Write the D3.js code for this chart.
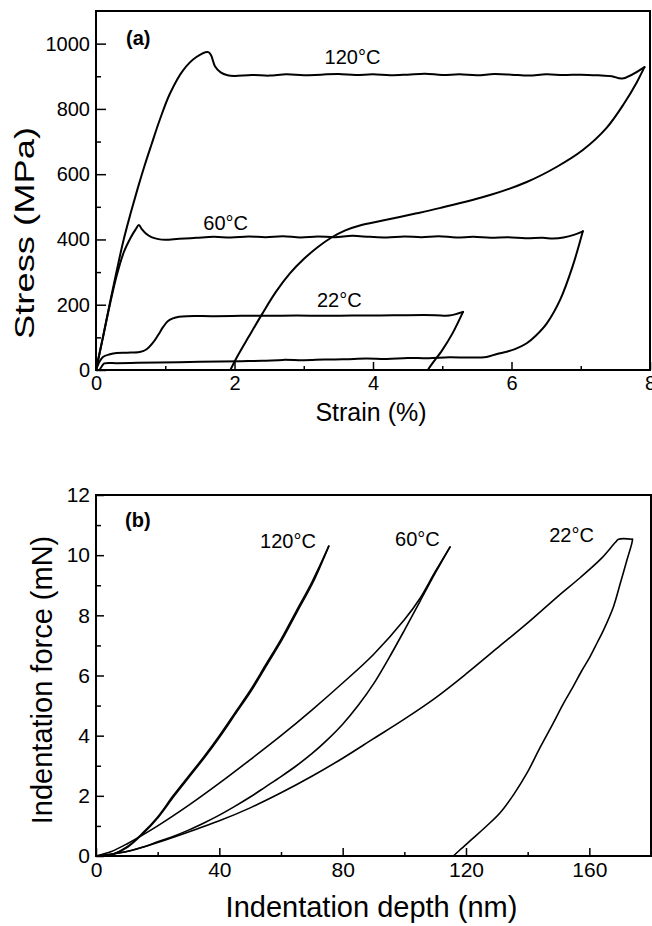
<!DOCTYPE html>
<html lang="en">
<head>
  <meta charset="utf-8">
  <title>Stress-strain and indentation curves</title>
  <script type="text/javascript" src="https://d3js.org/d3.v7.min.js"></script>
  <style type="text/css">
    body { margin: 0; background: #fff; }
    text { font-family: "Liberation Sans", Arial, sans-serif; fill: #000; }
    .curve { fill: none; stroke: #000; stroke-linejoin: round; stroke-linecap: round; }
    .frame { fill: none; stroke: #000; stroke-width: 2; }
    .axis path { display: none; }
    .axis line { stroke: #000; stroke-width: 1.5; }
  </style>
</head>
<body>
  <script type="text/javascript">
  // ---- panel (a): stress-strain, strain in %, stress in MPa ----
  var strain120Load = [0, 0.1, 0.2, 0.3, 0.4, 0.5, 0.6, 0.7, 0.8, 0.92, 1.07, 1.26, 1.45, 1.62, 1.66, 1.72, 1.8, 1.9,
    2.0, 2.25, 2.5, 2.75, 3.0, 3.25, 3.5, 3.75, 4.0, 4.25, 4.5, 4.75, 5.0, 5.25, 5.5, 5.75, 6.0, 6.25, 6.5, 6.75, 7.0, 7.25, 7.45, 7.6, 7.92];
  var stress120Load = [0, 100, 205, 305, 400, 480, 555, 625, 690, 766, 848, 919, 959, 974, 965, 930, 912, 903,
    901, 904, 902, 906, 903, 905, 907, 904, 906, 903, 905, 908, 904, 906, 903, 907, 905, 902, 906, 904, 905, 903, 900, 893, 928];
  var strain120Unload = [7.92, 7.81, 7.63, 7.37, 7.03, 6.65, 6.22, 5.69, 4.96, 4.63, 4.14, 3.81, 3.6, 3.4, 3.2, 3.0, 2.8, 2.6, 2.4, 2.2, 2.05, 1.94];
  var stress120Unload = [928, 882, 818, 741, 674, 622, 576, 536, 496, 480, 458, 443, 428, 406, 376, 340, 296, 240, 172, 100, 45, 0];

  var strain60Load = [0, 0.1, 0.2, 0.3, 0.4, 0.5, 0.57, 0.62, 0.66, 0.72, 0.8, 0.9, 1.0,
    1.2, 1.45, 1.7, 1.95, 2.2, 2.45, 2.7, 2.95, 3.2, 3.45, 3.7, 3.95, 4.2, 4.45, 4.7, 4.95, 5.2, 5.45, 5.7, 5.95, 6.2, 6.45,
    6.6, 6.75, 6.9, 7.03];
  var stress60Load = [0, 100, 200, 290, 360, 405, 430, 444, 432, 418, 407, 401, 399,
    402, 405, 408, 406, 409, 407, 410, 406, 409, 407, 411, 408, 406, 409, 407, 410, 406, 408, 405, 407, 404, 405,
    403, 406, 414, 425];
  var strain60Unload = [7.03, 6.88, 6.7, 6.51, 6.35, 6.22, 6.05, 5.93, 5.79, 5.64, 5.4, 5.1, 4.8, 4.5, 4.2, 3.9, 3.6, 3.3,
    3.0, 2.7, 2.4, 2.1, 1.8, 1.5, 1.2, 0.9, 0.6, 0.3, 0.12, 0.08, 0.05];
  var stress60Unload = [425, 316, 214, 143, 105, 82, 64, 56, 49, 40, 38, 39, 36, 37, 34, 35, 33, 32,
    30, 31, 28, 27, 26, 25, 24, 23, 22, 21, 20, 10, 0];

  var strain22Load = [0, 0.05, 0.1, 0.2, 0.3, 0.45, 0.63, 0.72, 0.82, 0.9, 0.97, 1.04, 1.11, 1.2, 1.31,
    1.7, 2.1, 2.5, 2.9, 3.3, 3.7, 4.1, 4.5, 4.9, 5.1, 5.3];
  var stress22Load = [0, 25, 40, 48, 52, 53, 55, 62, 83, 108, 132, 150, 158, 163, 165,
    165, 166, 166, 167, 166, 167, 167, 168, 168, 167, 178];
  var strain22Unload = [5.3, 5.15, 5.0, 4.86, 4.79];
  var stress22Unload = [178, 113, 61, 21, 0];

  var strainTicks = [0, 2, 4, 6, 8];
  var stressTicks = [0, 200, 400, 600, 800, 1000];

  // ---- panel (b): indentation, depth in nm, force in mN ----
  var depth120Load = [0, 5, 10, 15, 20, 25, 30, 35, 40, 45, 50, 55, 60, 65, 70, 75.5];
  var force120Load = [0, 0.05, 0.3, 0.75, 1.3, 2.0, 2.65, 3.3, 4.0, 4.75, 5.5, 6.35, 7.2, 8.15, 9.1, 10.3];
  var depth120Unload = [75.5, 70.4, 65.4, 60.4, 55.4, 50.4, 45.4, 40.4, 35.4, 30.4, 25.4, 20.3, 15.3, 10.3, 5.3, 1];
  var force120Unload = [10.3, 9.1, 8.15, 7.2, 6.35, 5.5, 4.75, 4.0, 3.3, 2.65, 2.0, 1.3, 0.75, 0.3, 0.05, 0];

  var depth60Load = [0, 5, 10, 20, 30, 40, 50, 60, 70, 80, 90, 100, 105, 110, 114.8];
  var force60Load = [0, 0.15, 0.4, 1.0, 1.68, 2.42, 3.2, 4.0, 4.85, 5.75, 6.7, 7.85, 8.55, 9.45, 10.27];
  var depth60Unload = [114.8, 110, 105, 100, 95, 90, 85, 80, 75, 70, 65, 60, 55, 50, 45, 40, 35, 30, 25, 20, 15, 10, 5, 0];
  var force60Unload = [10.27, 9.4, 8.45, 7.5, 6.58, 5.72, 5.0, 4.38, 3.86, 3.4, 3.0, 2.64, 2.3, 1.96, 1.65, 1.36, 1.1, 0.86, 0.65, 0.47, 0.29, 0.15, 0.06, 0];

  var depth22Load = [0, 10, 20, 30, 40, 50, 60, 70, 80, 90, 100, 110, 120, 130, 140, 150, 157, 164, 168.4, 169.5, 174];
  var force22Load = [0, 0.15, 0.45, 0.8, 1.17, 1.6, 2.1, 2.65, 3.25, 3.9, 4.55, 5.25, 6.05, 6.9, 7.75, 8.65, 9.25, 9.9, 10.42, 10.53, 10.53];
  var depth22Unload = [174, 173.8, 172.2, 170, 167.8, 164.6, 162.5, 160.2, 157.5, 154.7, 151.5, 148.3, 144, 139.8, 135.5, 131, 126.5, 122.4, 118, 115.9];
  var force22Unload = [10.53, 10.4, 9.84, 9.05, 8.28, 7.51, 7.08, 6.62, 6.15, 5.62, 5.05, 4.42, 3.6, 2.76, 2.05, 1.43, 0.98, 0.6, 0.2, 0];

  var depthTicks = [0, 40, 80, 120, 160];
  var forceTicks = [0, 2, 4, 6, 8, 10, 12];

  var w = 652;
  var h = 926;

  var svg = d3.select("body").append("svg")
    .attr("width", w)
    .attr("height", h);

  // zip two arrays into [x, y] pairs
  var pairs = function(xs, ys) {
    return xs.map(function(x, i) { return [x, ys[i]]; });
  };

  var drawPanel = function(opt) {
    var x = d3.scaleLinear().domain(opt.xDomain).range([opt.left, opt.right]);
    var y = d3.scaleLinear().domain(opt.yDomain).range([opt.bottom, opt.top]);
    var g = svg.append("g");

    var line = d3.line()
      .x(function(d) { return x(d[0]); })
      .y(function(d) { return y(d[1]); })
      .curve(d3.curveCatmullRom.alpha(0.5));

    opt.series.forEach(function(s) {
      g.append("path")
        .datum(pairs(s[0], s[1]))
        .attr("class", "curve")
        .attr("stroke-width", opt.lineWidth)
        .attr("d", line);
    });

    // minor ticks (inward)
    g.append("g").attr("class", "axis")
      .attr("transform", "translate(0," + opt.bottom + ")")
      .call(d3.axisBottom(x).tickValues(opt.xMinor).tickSize(-opt.xTick[1]).tickFormat(""));
    g.append("g").attr("class", "axis")
      .attr("transform", "translate(" + opt.left + ",0)")
      .call(d3.axisLeft(y).tickValues(opt.yMinor).tickSize(-opt.yTick[1]).tickFormat(""));

    // major ticks with labels
    var xa = g.append("g").attr("class", "axis")
      .attr("transform", "translate(0," + opt.bottom + ")")
      .call(d3.axisBottom(x).tickValues(opt.xTicks).tickSize(-opt.xTick[0]).tickPadding(opt.xPad).tickFormat(d3.format("d")));
    xa.selectAll("text").style("font-size", opt.tickFont + "px");
    var ya = g.append("g").attr("class", "axis")
      .attr("transform", "translate(" + opt.left + ",0)")
      .call(d3.axisLeft(y).tickValues(opt.yTicks).tickSize(-opt.yTick[0]).tickPadding(6).tickFormat(d3.format("d")));
    ya.selectAll("text").style("font-size", opt.tickFont + "px");

    g.append("rect")
      .attr("class", "frame")
      .attr("x", opt.left).attr("y", opt.top)
      .attr("width", opt.right - opt.left)
      .attr("height", opt.bottom - opt.top);

    // axis titles
    g.append("text")
      .attr("x", (opt.left + opt.right) / 2 - 2)
      .attr("y", opt.xTitleY)
      .attr("text-anchor", "middle")
      .style("font-size", opt.titleFont + "px")
      .text(opt.xTitle);
    var yt = g.append("text")
      .attr("transform", "translate(" + opt.yTitleX + "," + opt.yTitleMid + ") rotate(-90)")
      .attr("text-anchor", "middle")
      .style("font-size", opt.yTitleFont + "px")
      .text(opt.yTitle);
    if (opt.yTitleLen) {
      yt.attr("textLength", opt.yTitleLen).attr("lengthAdjust", "spacingAndGlyphs");
    }

    // panel tag
    g.append("text")
      .attr("x", opt.tag[1]).attr("y", opt.tag[2])
      .style("font-size", "20px").style("font-weight", "bold")
      .text(opt.tag[0]);

    // temperature labels
    opt.labels.forEach(function(l) {
      g.append("text")
        .attr("x", x(l[1])).attr("y", y(l[2]))
        .style("font-size", opt.labelFont + "px")
        .text(l[0]);
    });
  };

  drawPanel({
    left: 96, right: 650, top: 11, bottom: 370,
    xDomain: [0, 8], yDomain: [0, 1100],
    xTicks: strainTicks, yTicks: stressTicks,
    xMinor: [1, 3, 5, 7], yMinor: [100, 300, 500, 700, 900],
    xTick: [8, 4], yTick: [10, 5], xPad: 6,
    tickFont: 20, titleFont: 25, yTitleFont: 27, yTitleLen: 212,
    xTitle: "Strain (%)", xTitleY: 421,
    yTitle: "Stress (MPa)", yTitleX: 34, yTitleMid: 233,
    lineWidth: 2,
    tag: ["(a)", 126, 45],
    labelFont: 20,
    labels: [["120°C", 3.3, 938], ["60°C", 1.55, 428], ["22°C", 3.19, 193]],
    series: [
      [strain120Load, stress120Load], [strain120Unload, stress120Unload],
      [strain60Load, stress60Load], [strain60Unload, stress60Unload],
      [strain22Load, stress22Load], [strain22Unload, stress22Unload]
    ]
  });

  drawPanel({
    left: 96, right: 651, top: 495, bottom: 856,
    xDomain: [0, 180], yDomain: [0, 12],
    xTicks: depthTicks, yTicks: forceTicks,
    xMinor: [20, 60, 100, 140], yMinor: [1, 3, 5, 7, 9, 11],
    xTick: [8, 4], yTick: [8, 5], xPad: 6,
    tickFont: 21, titleFont: 29, yTitleFont: 29,
    xTitle: "Indentation depth (nm)", xTitleY: 917,
    yTitle: "Indentation force (mN)", yTitleX: 52, yTitleMid: 680,
    lineWidth: 1.6,
    tag: ["(b)", 125, 527],
    labelFont: 20,
    labels: [["120°C", 53.2, 10.25], ["60°C", 97, 10.3], ["22°C", 147, 10.43]],
    series: [
      [depth120Load, force120Load], [depth120Unload, force120Unload],
      [depth60Load, force60Load], [depth60Unload, force60Unload],
      [depth22Load, force22Load], [depth22Unload, force22Unload]
    ]
  });
  </script>
</body>
</html>
